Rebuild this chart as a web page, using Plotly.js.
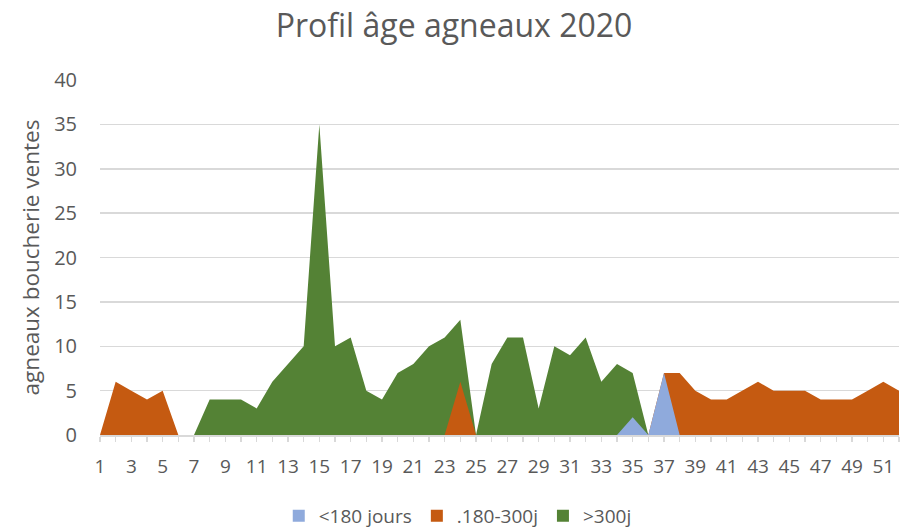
<!DOCTYPE html>
<html>
<head>
<meta charset="utf-8">
<script src="https://cdn.plot.ly/plotly-3.0.1.min.js"></script>
<style>
  html, body { margin: 0; padding: 0; background: #fff; }
  #chart { width: 908px; height: 531px; }
</style>
</head>
<body>
<div id="chart"></div>
<script>
// Weeks 1..52
const weeks = Array.from({length: 52}, (_, i) => i + 1);
const xTickLabels = [1,3,5,7,9,11,13,15,17,19,21,23,25,27,29,31,33,35,37,39,41,43,45,47,49,51];
const seriesNames = ["<180 jours", ".180-300j", ">300j"];

// <180 jours
const under180 = [0,0,0,0,0,0,0,0,0,0, 0,0,0,0,0,0,0,0,0,0, 0,0,0,0,0,0,0,0,0,0, 0,0,0,0,2,0,7,0,0,0, 0,0,0,0,0,0,0,0,0,0, 0,0];
// .180-300j
const mid180_300 = [0,6,5,4,5,0,0,0,0,0, 0,0,0,0,0,0,0,0,0,0, 0,0,0,6,0,0,0,0,0,0, 0,0,0,0,0,0,7,7,5,4, 4,5,6,5,5,5,4,4,4,5, 6,5];
// >300j
const over300 = [0,0,0,0,0,0,0,4,4,4, 3,6,8,10,35,10,11,5,4,7, 8,10,11,13,0,8,11,11,3,10, 9,11,6,8,7,0,0,0,0,0, 0,0,0,0,0,0,0,0,0,0, 0,0];

const colors = ["#8FAADC", "#C55A11", "#548235"];
const fontFam = "'Open Sans', 'Noto Sans', sans-serif";
const grey = "#595959";

function area(y, color) {
  return {
    x: weeks, y: y, type: "scatter", mode: "lines",
    fill: "tozeroy", fillcolor: color,
    line: {width: 0, color: color},
    showlegend: false, hoverinfo: "x+y"
  };
}
function legendItem(name, color, rank) {
  return {
    x: [null], y: [null], type: "scatter", mode: "markers", name: name,
    marker: {symbol: "square", size: 12, color: color},
    legendrank: rank, showlegend: true, hoverinfo: "skip"
  };
}

// draw order: >300j at back, then .180-300j, then <180 jours on top
const data = [
  area(over300, colors[2]),
  area(mid180_300, colors[1]),
  area(under180, colors[0]),
  legendItem(seriesNames[0], colors[0], 1),
  legendItem(seriesNames[1], colors[1], 2),
  legendItem(seriesNames[2], colors[2], 3)
];

const layout = {
  width: 908, height: 531,
  paper_bgcolor: "#fff", plot_bgcolor: "#fff",
  margin: {l: 100, r: 9, t: 80, b: 96},
  font: {family: fontFam, color: grey, size: 20},
  title: {text: "Profil âge agneaux 2020", x: 0.5, xanchor: "center", y: 0.951, yanchor: "middle",
          font: {family: fontFam, size: 32, color: grey}},
  xaxis: {
    range: [1, 52], tickvals: xTickLabels, ticktext: xTickLabels.map(String),
    showgrid: false, zeroline: false,
    showline: true, linecolor: "#d9d9d9", linewidth: 1.5,
    ticks: "outside", ticklen: 5, tickcolor: "#d9d9d9", tickwidth: 1.5,
    minor: {dtick: 1, tick0: 1, ticks: "outside", ticklen: 5, tickcolor: "#d9d9d9", tickwidth: 1.5, showgrid: false},
    ticklabelstandoff: 9,
    tickfont: {size: 19, color: grey, family: fontFam},
    fixedrange: true
  },
  yaxis: {
    range: [0, 40], dtick: 5, tick0: 0,
    showgrid: true, gridcolor: "#d9d9d9", gridwidth: 1.5,
    zeroline: false, showline: false,
    ticklabelstandoff: 22,
    tickfont: {size: 20, color: grey, family: fontFam},
    title: {text: "agneaux boucherie ventes", font: {size: 22.5, color: grey, family: fontFam}, standoff: 8},
    fixedrange: true
  },
  legend: {
    orientation: "h", xref: "container", x: 0.307, xanchor: "left",
    yref: "container", y: 34/531, yanchor: "top",
    font: {size: 19, color: grey, family: fontFam},
    itemwidth: 30, traceorder: "normal"
  },
  showlegend: true
};

Plotly.newPlot("chart", data, layout, {displayModeBar: false, staticPlot: true});
</script>
</body>
</html>
